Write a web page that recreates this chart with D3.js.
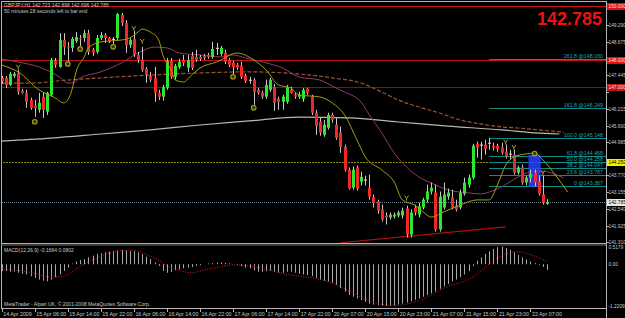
<!DOCTYPE html>
<html>
<head>
<meta charset="utf-8">
<script src="https://cdn.jsdelivr.net/npm/d3@7"></script>
<style>
  html, body { margin: 0; padding: 0; background: #000; }
  svg { display: block; }
  text { font-family: "Liberation Sans", Arial, sans-serif; }
</style>
</head>
<body>
<svg width="625" height="318"></svg>
<script>
// GBPJPY H1, one [open, high, low, close] per bar
const ohlc = [
  [147.35,147.42,147.13,147.21],[147.35,147.42,146.98,147.09],[147.09,147.57,147.06,147.50],
  [147.42,147.57,147.35,147.50],[147.53,147.64,146.73,146.84],[146.88,146.95,146.77,146.80],
  [146.80,146.91,146.25,146.47],[146.54,146.62,146.18,146.25],[146.33,146.54,145.92,146.25],
  [146.18,146.80,146.07,146.44],[146.66,146.80,145.88,146.18],[146.11,146.84,145.99,146.80],
  [146.73,148.08,146.66,148.01],[147.97,148.08,147.72,147.83],[147.75,148.99,147.72,148.74],
  [148.74,148.99,148.19,148.49],[148.50,148.67,147.97,148.47],[148.45,148.85,148.30,148.78],
  [148.70,149.03,148.63,148.85],[148.81,148.92,148.52,148.78],[148.81,149.11,148.67,148.99],
  [148.99,149.11,148.19,148.30],[148.38,148.45,148.16,148.27],[148.30,148.92,148.23,148.81],
  [148.81,149.03,148.74,148.92],[148.92,148.99,148.63,148.81],[148.81,148.85,148.63,148.70],
  [148.78,148.85,148.56,148.76],[148.81,149.73,148.74,149.69],[149.66,149.73,149.25,149.36],
  [149.36,149.47,148.27,148.56],[148.56,148.81,148.45,148.74],[148.78,149.07,148.12,148.19],
  [148.19,148.30,147.90,148.01],[148.01,148.49,147.57,147.64],[147.68,147.75,147.17,147.46],
  [147.42,147.57,147.20,147.28],[147.35,147.75,146.47,146.80],[146.80,146.91,146.54,146.66],
  [146.66,147.09,146.51,147.02],[146.99,148.08,146.91,147.97],[147.97,148.08,147.31,147.39],
  [147.39,147.86,147.28,147.79],[147.75,148.05,147.68,147.94],[148.01,148.19,147.79,147.90],
  [147.72,148.19,147.57,148.01],[148.16,148.30,147.64,147.72],[148.12,148.38,147.94,148.01],
  [148.12,148.19,147.97,148.05],[148.16,148.23,148.01,148.08],[148.19,148.27,148.05,148.12],
  [148.12,148.67,148.05,148.41],[148.45,148.63,148.19,148.43],[148.23,148.52,148.16,148.45],
  [148.27,148.38,147.86,147.94],[148.01,148.08,147.75,147.83],[147.90,147.97,147.46,147.75],
  [147.83,147.90,147.64,147.72],[147.79,147.94,147.31,147.39],[147.42,147.50,147.17,147.24],
  [147.28,147.39,147.13,147.26],[147.28,147.35,146.36,146.84],[146.91,146.99,146.73,146.80],
  [146.80,146.88,146.58,146.66],[146.66,147.28,146.58,147.09],[146.91,147.35,146.84,147.28],
  [147.02,147.13,146.14,146.44],[146.58,146.66,146.18,146.47],[146.47,146.73,146.18,146.66],
  [146.47,147.09,146.40,146.99],[146.91,147.02,146.77,146.80],[146.73,146.80,146.58,146.66],
  [146.66,146.84,146.58,146.73],[146.58,146.98,146.47,146.91],[146.95,146.99,146.73,146.80],
  [146.66,146.73,145.99,146.07],[146.07,146.18,145.26,145.59],[145.74,145.88,145.23,145.34],
  [145.26,145.81,145.19,145.63],[145.52,146.07,145.45,145.99],[145.99,146.07,145.70,145.81],
  [145.63,145.88,145.08,145.15],[145.34,145.56,144.60,144.82],[144.82,144.90,143.91,143.98],
  [143.98,144.06,143.25,143.29],[143.32,144.10,143.25,143.98],[144.06,144.13,143.21,143.29],
  [143.54,143.91,143.40,143.72],[143.62,143.76,143.40,143.60],[143.32,143.80,142.88,142.99],
  [142.96,143.07,142.59,142.77],[142.81,142.88,142.37,142.48],[142.52,142.70,142.08,142.15],
  [142.30,142.41,141.97,142.23],[142.23,142.41,142.15,142.33],[142.26,142.41,142.19,142.33],
  [142.30,142.48,142.23,142.41],[142.30,142.59,142.19,142.48],[142.55,142.66,141.49,141.60],
  [141.60,142.52,141.49,142.41],[142.59,142.70,142.30,142.41],[142.33,142.77,142.23,142.63],
  [142.59,142.95,142.52,142.88],[142.88,143.43,142.77,143.18],[143.18,143.51,143.07,143.32],
  [143.14,143.43,141.71,141.79],[141.79,143.18,141.71,142.99],[142.59,143.51,142.52,143.07],
  [142.99,143.29,142.88,143.14],[142.96,143.25,142.52,142.59],[142.66,142.88,142.45,142.52],
  [142.59,143.25,142.52,143.14],[143.10,143.69,143.03,143.51],[143.43,143.80,143.32,143.69],
  [143.69,144.93,143.62,144.86],[144.93,145.01,144.42,144.79],[144.90,145.01,144.35,144.88],
  [144.90,145.08,144.53,144.75],[144.97,145.148,144.71,144.95],[144.86,144.97,144.68,144.79],
  [144.86,144.93,144.64,144.75],[144.79,144.97,144.53,144.60],[144.64,144.90,144.39,144.46],
  [144.57,144.71,144.35,144.55],[144.53,144.71,143.80,143.87],[143.87,144.13,143.80,144.06],
  [144.06,144.17,143.43,143.51],[143.51,143.76,143.40,143.69],[143.69,143.98,143.51,143.83],
  [143.87,143.98,143.367,143.51],[143.54,143.76,143.03,143.10],[143.07,143.76,142.70,142.77],
  [142.723,142.898,142.696,142.785]
];

// moving averages, [bar, price]
const maFast = [[0,147.82],[2,147.71],[4,147.57],[9,146.91],[13,146.61],[15,146.43],[16,146.54],
  [17,146.91],[18,147.57],[20,148.12],[21,148.45],[24,148.67],[26,148.70],[29,148.74],[31,148.81],
  [33,149.03],[34,149.14],[36,149.03],[38,148.74],[39,148.19],[41,147.64],[42,147.27],[44,147.20],
  [46,147.46],[48,147.71],[52,147.93],[57,148.26],[61,148.01],[64,147.64],[67,147.09],[70,146.98],
  [72,146.72],[77,146.65],[80,146.43],[83,145.99],[86,145.07],[88,144.45],[92,143.97],[95,143.53],
  [97,142.87],[100,142.68],[102,142.43],[104,142.24],[107,142.43],[111,142.68],[115,142.87],
  [118,142.87],[120,143.42],[122,144.15],[124,144.45],[127,144.56],[129,144.59],[131,144.34],
  [134,143.79],[137,143.16]];
const maMid = [[0,148.04],[4,147.93],[9,147.75],[14,147.38],[16,147.16],[17,147.16],[19,147.35],
  [24,147.57],[29,147.90],[33,148.26],[37,148.48],[40,148.45],[43,148.26],[48,148.19],[53,148.12],
  [56,148.19],[59,148.08],[64,147.90],[68,147.71],[72,147.38],[77,147.27],[80,147.05],[83,146.83],
  [87,146.46],[89,145.99],[92,145.33],[95,144.59],[98,144.08],[101,143.71],[104,143.49],[108,143.24],
  [113,143.13],[116,143.09],[118,143.16],[121,143.35],[125,143.71],[128,143.90],[131,143.93],
  [133,143.86],[136,143.68]];
const maSlow = [[0,147.16],[7,147.16],[16,147.27],[24,147.35],[32,147.42],[48,147.53],[60,147.57],
  [72,147.49],[80,147.35],[87,147.16],[92,146.83],[96,146.54],[101,146.28],[106,146.06],[111,145.80],
  [116,145.66],[121,145.55],[125,145.51],[130,145.44],[136,145.36]];
const ma200 = [[0,145.03],[12,145.14],[24,145.29],[36,145.44],[48,145.62],[60,145.77],[72,145.91],
  [84,145.88],[96,145.73],[108,145.58],[121,145.44],[129,145.33],[135,145.29]];

// fractal style marks
const marksUp = [[4,147.72],[32,149.14],[34,148.67],[98,142.92],[122,144.97],[124,144.78],[131,143.84]];
const marksDown = [[8,145.74],[16,147.86],[19,148.41],[27,148.49],[56,147.39],[61,146.25],[129,144.57]];

// fibonacci levels
const fibRatios = ["0", "23.6", "38.2", "50.0", "61.8", "100.0", "161.8", "261.8"];
const fibPrices = [143.367, 143.787, 144.047, 144.258, 144.468, 145.148, 146.249, 148.030];
const fibStartBar = 118;

// horizontal levels
const redLevels = [150.000, 148.000, 147.000];
const yellowLevel = 144.250;
const bidPrice = 142.785;

// trend line and highlight box
const trendBars = [82, 122];
const trendPrices = [141.30, 141.88];
const boxBars = [128, 130];
const boxPrices = [143.367, 144.53];

// MACD(12,26,9)
const macdHist = [
  -0.2,-0.2,-0.22,-0.22,-0.25,-0.28,-0.3,-0.35,
  -0.4,-0.45,-0.48,-0.5,-0.45,
  -0.38,-0.3,-0.2,-0.1,
  0.02,0.08,0.12,0.15,
  0.2,0.25,0.3,0.32,
  0.35,0.37,0.38,0.4,0.42,0.4,0.38,0.38,0.35,0.3,
  0.22,0.15,0.05,-0.05,
  -0.2,-0.25,-0.22,-0.18,-0.15,-0.12,
  -0.1,-0.08,-0.05,-0.03,0.0,0.02,
  0.03,0.05,0.05,0.04,0.02,0.0,
  -0.03,-0.06,-0.1,-0.12,-0.18,-0.22,-0.22,
  -0.2,-0.18,-0.22,-0.25,-0.25,-0.22,-0.22,-0.25,-0.28,
  -0.3,-0.32,-0.35,-0.4,-0.45,-0.48,-0.5,
  -0.55,-0.6,-0.7,-0.8,-0.9,
  -0.95,-1.0,-1.05,-1.1,-1.15,
  -1.18,-1.2,-1.21,-1.2209,-1.22,-1.2,-1.18,-1.15,
  -1.12,-1.08,-1.04,-1.0,-0.95,
  -0.9,-0.85,-0.8,-0.72,-0.65,
  -0.58,-0.5,-0.45,-0.38,-0.3,
  -0.2,-0.05,0.1,
  0.2,0.3,0.38,0.45,0.5,0.5179,0.48,
  0.42,0.35,0.27,0.2,0.14,
  0.08,0.03,-0.02,-0.08,-0.1664
];
const macdSignal = [[0,-0.14],[5,-0.2],[8,-0.27],[11,-0.37],[14,-0.36],[16,-0.3],[18,-0.15],[20,0.0],
  [23,0.18],[26,0.32],[30,0.41],[33,0.39],[35,0.28],[38,0.12],[40,-0.05],[43,-0.18],[46,-0.25],
  [48,-0.2],[52,-0.1],[56,-0.02],[60,-0.05],[64,-0.15],[68,-0.27],[72,-0.35],[77,-0.44],[80,-0.55],
  [84,-0.78],[88,-1.02],[92,-1.17],[96,-1.2],[100,-1.1],[104,-0.9],[108,-0.65],[113,-0.45],
  [116,-0.2],[119,0.1],[122,0.3],[125,0.37],[128,0.28],[132,0.0802]];
const macdTicks = [0.5179, 0.00, -1.2209];

// axes
const priceTicks = [149.905, 149.290, 148.675, 148.060, 147.445, 146.830, 146.215, 145.600,
  144.985, 144.370, 143.770, 143.155, 142.540, 141.925, 141.310];
const dateLabels = ["14 Apr 2009", "15 Apr 06:00", "15 Apr 14:00", "15 Apr 22:00", "16 Apr 06:00",
  "16 Apr 14:00", "16 Apr 22:00", "17 Apr 06:00", "17 Apr 14:00", "17 Apr 22:00", "20 Apr 07:00",
  "20 Apr 15:00", "20 Apr 23:00", "21 Apr 07:00", "21 Apr 15:00", "21 Apr 23:00", "22 Apr 07:00"];
const dateStep = 8;

const AXIS_X = 606;
const svg = d3.select("svg");
svg.append("rect").attr("width", 625).attr("height", 318).attr("fill", "#000");

const x = d3.scaleLinear().domain([0, ohlc.length - 1]).range([1.7, 547]);
const y = d3.scaleLinear().domain([141.29, 150.17]).range([243, 1]);
const ym = d3.scaleLinear().domain([-1.2209, 0.5179]).range([306, 246.5]);

svg.append("clipPath").attr("id", "main")
  .append("rect").attr("x", 2).attr("y", 2).attr("width", AXIS_X - 2).attr("height", 241);
svg.append("clipPath").attr("id", "sub")
  .append("rect").attr("x", 2).attr("y", 245).attr("width", AXIS_X - 2).attr("height", 62);

const main = svg.append("g").attr("clip-path", "url(#main)");
const snap = (v) => Math.round(v) + 0.5;

// horizontal level lines
main.selectAll(".red")
  .data(redLevels)
  .join("line")
  .attr("x1", 0).attr("x2", AXIS_X)
  .attr("y1", (d) => snap(y(d))).attr("y2", (d) => snap(y(d)))
  .attr("stroke", (d, i) => (i === 2 ? "#8a1010" : "#c81010"))
  .attr("stroke-width", 1.2);

main.append("line")
  .attr("x1", 0).attr("x2", AXIS_X)
  .attr("y1", snap(y(yellowLevel))).attr("y2", snap(y(yellowLevel)))
  .attr("stroke", "#8c8c08").attr("stroke-width", 1.2).attr("stroke-dasharray", "2,1");

main.append("line")
  .attr("x1", 0).attr("x2", AXIS_X)
  .attr("y1", snap(y(bidPrice))).attr("y2", snap(y(bidPrice)))
  .attr("stroke", "#6a7f90").attr("stroke-dasharray", "1,1");

// fibonacci
const fib = main.append("g");
fib.selectAll("line")
  .data(fibPrices)
  .join("line")
  .attr("x1", x(fibStartBar)).attr("x2", AXIS_X)
  .attr("y1", (d) => snap(y(d))).attr("y2", (d) => snap(y(d)))
  .attr("stroke", "#138a8a");
fib.selectAll("text")
  .data(fibPrices)
  .join("text")
  .attr("x", 603).attr("y", (d) => y(d) - 1)
  .attr("text-anchor", "end")
  .attr("font-size", 5.3)
  .attr("fill", "#1aa8a8")
  .text((d, i) => fibRatios[i] + " @" + d.toFixed(3));

// blue highlight box
main.append("rect")
  .attr("x", x(boxBars[0]) - 2).attr("width", x(boxBars[1]) - x(boxBars[0]) + 4)
  .attr("y", y(boxPrices[1])).attr("height", y(boxPrices[0]) - y(boxPrices[1]))
  .attr("fill", "#2a40ff").attr("opacity", 0.85);

// moving averages
const maLine = d3.line()
  .x((d) => x(d[0]))
  .y((d) => y(d[1]))
  .curve(d3.curveMonotoneX);

main.append("path").datum(ma200).attr("d", maLine)
  .attr("fill", "none").attr("stroke", "#b8b8b0").attr("stroke-width", 1.2);
main.append("path").datum(maSlow).attr("d", maLine)
  .attr("fill", "none").attr("stroke", "#a0522d").attr("stroke-width", 1.2)
  .attr("stroke-dasharray", "4,2");
main.append("path").datum(maMid).attr("d", maLine)
  .attr("fill", "none").attr("stroke", "#8e3d60").attr("stroke-width", 1);

// trend line
main.append("line")
  .attr("x1", x(trendBars[0])).attr("y1", y(trendPrices[0]))
  .attr("x2", x(trendBars[1])).attr("y2", y(trendPrices[1]))
  .attr("stroke", "#b01010").attr("stroke-width", 1.2);

// candles
const candle = main.append("g")
  .selectAll("g")
  .data(ohlc)
  .join("g");

candle.append("line")
  .attr("x1", (d, i) => snap(x(i))).attr("x2", (d, i) => snap(x(i)))
  .attr("y1", (d) => y(d[1])).attr("y2", (d) => y(d[2]))
  .attr("stroke", "#c8c8c8");

candle.append("rect")
  .attr("x", (d, i) => Math.round(x(i)) - 1)
  .attr("width", 3)
  .attr("y", (d) => y(Math.max(d[0], d[3])))
  .attr("height", (d) => Math.max(1, Math.abs(y(d[0]) - y(d[3]))))
  .attr("fill", (d) => (Math.abs(d[0] - d[3]) < 0.03 ? "#e8d0d0" : d[3] > d[0] ? "#2ee62e" : "#f02828"));

main.append("path").datum(maFast).attr("d", maLine)
  .attr("fill", "none").attr("stroke", "#a5a010").attr("stroke-width", 1);

// fractal marks
main.selectAll(".up")
  .data(marksUp)
  .join("path")
  .attr("transform", (d) => `translate(${x(d[0])},${y(d[1])})`)
  .attr("d", "M-2,-3L0,0L2,-3M0,0V2")
  .attr("fill", "none").attr("stroke", "#a8a020").attr("stroke-width", 1);

main.selectAll(".down")
  .data(marksDown)
  .join("circle")
  .attr("cx", (d) => x(d[0])).attr("cy", (d) => y(d[1]))
  .attr("r", 2.3)
  .attr("fill", "#3a3a00").attr("stroke", "#a8a020").attr("stroke-width", 1.1);

// MACD panel
const sub = svg.append("g").attr("clip-path", "url(#sub)");
sub.selectAll("line")
  .data(macdHist)
  .join("line")
  .attr("x1", (d, i) => snap(x(i))).attr("x2", (d, i) => snap(x(i)))
  .attr("y1", ym(0)).attr("y2", (d) => ym(d))
  .attr("stroke", "#a8a8a8");
sub.append("path")
  .datum(macdSignal)
  .attr("d", d3.line().x((d) => x(d[0])).y((d) => ym(d[1])).curve(d3.curveMonotoneX))
  .attr("fill", "none").attr("stroke", "#d02020").attr("stroke-width", 1)
  .attr("stroke-dasharray", "1,1.5");

// frame
const frame = "#b4b4b4";
svg.append("line").attr("x1", 1.5).attr("x2", 1.5).attr("y1", 1).attr("y2", 308).attr("stroke", frame);
svg.append("line").attr("x1", 1).attr("x2", AXIS_X).attr("y1", 1.5).attr("y2", 1.5).attr("stroke", frame);
svg.append("line").attr("x1", AXIS_X + 0.5).attr("x2", AXIS_X + 0.5).attr("y1", 1).attr("y2", 318).attr("stroke", frame);
svg.append("line").attr("x1", 1).attr("x2", AXIS_X).attr("y1", 243.5).attr("y2", 243.5).attr("stroke", frame);
svg.append("line").attr("x1", 1).attr("x2", AXIS_X).attr("y1", 245).attr("y2", 245).attr("stroke", "#707070");
svg.append("line").attr("x1", 1).attr("x2", AXIS_X).attr("y1", 308.5).attr("y2", 308.5).attr("stroke", frame);

const txt = "#c8c8c8";
const tagged = redLevels.concat([yellowLevel, bidPrice]);

// price axis (labels fully covered by a level tag are not shown, as on the chart)
const pAxis = svg.append("g");
pAxis.selectAll("line")
  .data(priceTicks)
  .join("line")
  .attr("x1", AXIS_X).attr("x2", AXIS_X + 3)
  .attr("y1", (d) => snap(y(d))).attr("y2", (d) => snap(y(d)))
  .attr("stroke", frame);
pAxis.selectAll("text")
  .data(priceTicks.filter((p) => tagged.every((t) => Math.abs(y(p) - y(t)) > 5)))
  .join("text")
  .attr("x", 608.5).attr("y", (d) => y(d) + 2)
  .attr("font-size", 4.8).attr("fill", txt)
  .text((d) => d.toFixed(3));

// labelled levels on the price axis
function axisTag(price, bg, fg) {
  const g = svg.append("g").attr("transform", `translate(607,${Math.round(y(price)) - 3})`);
  g.append("rect").attr("width", 18).attr("height", 7).attr("fill", bg);
  g.append("text").attr("x", 1.5).attr("y", 5.3).attr("font-size", 4.8).attr("fill", fg)
    .text(price.toFixed(3));
}
redLevels.forEach((p, i) => axisTag(p, i === 2 ? "#c01818" : "#e01010", "#ffe0e0"));
axisTag(yellowLevel, "#f0f000", "#000");
axisTag(bidPrice, "#e8e8e8", "#000");

// macd axis
svg.selectAll(".mt")
  .data(macdTicks)
  .join("text")
  .attr("x", 608.5).attr("y", (d) => ym(d) + 2)
  .attr("font-size", 4.8).attr("fill", txt)
  .text((d) => (d === 0 ? "0.00" : d.toFixed(4)));

// date axis
const dAxis = svg.append("g");
dAxis.selectAll("line")
  .data(dateLabels)
  .join("line")
  .attr("x1", (d, i) => snap(x(i * dateStep)))
  .attr("x2", (d, i) => snap(x(i * dateStep)))
  .attr("y1", 308).attr("y2", 312)
  .attr("stroke", frame);
dAxis.selectAll("text")
  .data(dateLabels)
  .join("text")
  .attr("x", (d, i) => x(i * dateStep) + 1.5).attr("y", 316)
  .attr("font-size", 5.3).attr("fill", txt)
  .text((d) => d);

// header and captions
const last = ohlc[ohlc.length - 1];
svg.append("text").attr("x", 4).attr("y", 6.5).attr("font-size", 5).attr("fill", txt)
  .text("GBPJPY,H1  " + last.map((v) => v.toFixed(3)).join(" "));
svg.append("text").attr("x", 4).attr("y", 12.5).attr("font-size", 5).attr("fill", txt)
  .text("50 minutes 28 seconds left to bar end");
svg.append("text").attr("x", 602).attr("y", 25).attr("text-anchor", "end")
  .attr("font-size", 18).attr("font-weight", "bold").attr("fill", "#f01010")
  .text(last[3].toFixed(3));
svg.append("text").attr("x", 4).attr("y", 252).attr("font-size", 5).attr("fill", txt)
  .text("MACD(12,26,9) " + macdHist[macdHist.length - 1].toFixed(4) + " " +
    macdSignal[macdSignal.length - 1][1].toFixed(4));
svg.append("text").attr("x", 4).attr("y", 306).attr("font-size", 5).attr("fill", txt)
  .text("MetaTrader - Alpari UK, \u00a9 2001-2008 MetaQuotes Software Corp.");
</script>
</body>
</html>
